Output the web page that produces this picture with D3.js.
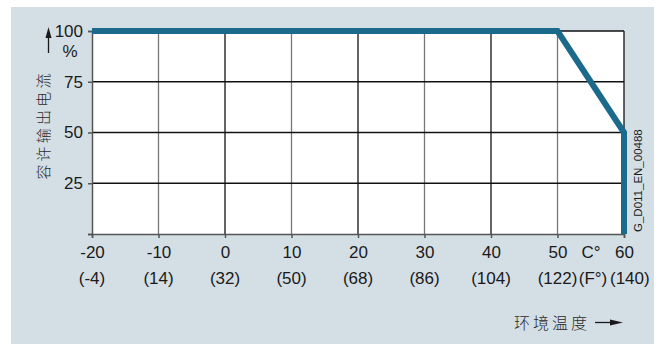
<!DOCTYPE html>
<html>
<head>
<meta charset="utf-8">
<script src="https://cdn.jsdelivr.net/npm/d3@7"></script>
<style>
  body { margin: 0; background: #ffffff; }
  svg { display: block; }
  .axis text { font-family: "Liberation Sans", Arial, sans-serif; font-size: 17px; fill: #1a1a1a; }
  .cjk { font-family: "Noto Sans CJK SC", sans-serif; font-weight: 300; fill: #2a2a2a; }
</style>
</head>
<body>
<div id="chart"></div>
<script>
// temperature ticks (C) and their Fahrenheit labels
var tempTicks = [-20, -10, 0, 10, 20, 30, 40, 50, 60];
var fahrLabels = ["(-4)", "(14)", "(32)", "(50)", "(68)", "(86)", "(104)", "(122)", "(140)"];
var currentTicks = [0, 25, 50, 75, 100];

// derating curve
var curveTemp = [-20, 50, 60, 60];
var curveCurrent = [100, 100, 50, 0];

var width = 664, height = 344;
var svg = d3.select("#chart").append("svg")
  .attr("width", width)
  .attr("height", height);

// panel background
svg.append("rect")
  .attr("x", 11).attr("y", 7)
  .attr("width", 643).attr("height", 337)
  .attr("fill", "#d4dfe5");

var x = d3.scaleLinear().domain([-20, 60]).range([92, 624]);
var y = d3.scaleLinear().domain([0, 100]).range([234, 31]);

// white plot area
svg.append("rect")
  .attr("x", x(-20)).attr("y", y(100))
  .attr("width", x(60) - x(-20)).attr("height", y(0) - y(100))
  .attr("fill", "#ffffff");

// vertical grid
svg.append("g").selectAll("line")
  .data(tempTicks.slice(1))
  .enter().append("line")
  .attr("x1", function(d) { return x(d); })
  .attr("x2", function(d) { return x(d); })
  .attr("y1", y(100)).attr("y2", y(0))
  .attr("stroke", function(d) { return (d % 20 === 0) ? "#111" : "#777"; })
  .attr("stroke-width", 1.3);

// horizontal grid
svg.append("g").selectAll("line")
  .data(currentTicks.slice(1))
  .enter().append("line")
  .attr("x1", x(-20)).attr("x2", x(60))
  .attr("y1", function(d) { return y(d); })
  .attr("y2", function(d) { return y(d); })
  .attr("stroke", "#111")
  .attr("stroke-width", 1.3);

// axes
var yAxis = d3.axisLeft(y)
  .tickValues(currentTicks)
  .tickSize(4)
  .tickPadding(5)
  .tickFormat(function(d) { return d === 0 ? "" : d; });

var gy = svg.append("g")
  .attr("class", "axis")
  .attr("transform", "translate(" + x(-20) + ",0)")
  .call(yAxis);

var xAxis = d3.axisBottom(x)
  .tickValues(tempTicks)
  .tickSize(4)
  .tickPadding(8)
  .tickFormat(function(d) { return d; });

var gx = svg.append("g")
  .attr("class", "axis")
  .attr("transform", "translate(0," + y(0) + ")")
  .call(xAxis);

[gx, gy].forEach(function(g) {
  g.select(".domain").attr("stroke", "#555").attr("stroke-width", 1.5);
  g.selectAll(".tick line").attr("stroke", "#555").attr("stroke-width", 1.5);
});

// fahrenheit row
svg.append("g").attr("class", "axis")
  .selectAll("text")
  .data(tempTicks)
  .enter().append("text")
  .attr("x", function(d, i) { return i === tempTicks.length - 1 ? x(d) - 14 : x(d); })
  .attr("y", 284)
  .attr("text-anchor", function(d, i) { return i === tempTicks.length - 1 ? "start" : "middle"; })
  .text(function(d, i) { return fahrLabels[i]; });

svg.append("text")
  .attr("x", 591).attr("y", 258)
  .attr("text-anchor", "middle")
  .style("font-family", "Liberation Sans, Arial, sans-serif")
  .style("font-size", "17px").style("fill", "#1a1a1a")
  .text("C°");

svg.append("text")
  .attr("x", 593).attr("y", 284)
  .attr("text-anchor", "middle")
  .style("font-family", "Liberation Sans, Arial, sans-serif")
  .style("font-size", "17px").style("fill", "#1a1a1a")
  .text("(F°)");

// percent unit + up arrow
svg.append("text")
  .attr("x", 70).attr("y", 57)
  .attr("text-anchor", "middle")
  .style("font-family", "Liberation Sans, Arial, sans-serif")
  .style("font-size", "17px").style("fill", "#1a1a1a")
  .text("%");

svg.append("line")
  .attr("x1", 48.5).attr("x2", 48.5)
  .attr("y1", 35).attr("y2", 53)
  .attr("stroke", "#1a1a1a").attr("stroke-width", 1.3);
svg.append("path")
  .attr("d", "M48.5,27 L45.5,38 L51.5,38 Z")
  .attr("fill", "#1a1a1a");

// y title
svg.append("text")
  .attr("class", "cjk")
  .attr("transform", "translate(49,125) rotate(-90)")
  .attr("text-anchor", "middle")
  .style("font-size", "15px")
  .style("letter-spacing", "3.2px")
  .text("容许输出电流");

// x title + arrow
svg.append("text")
  .attr("class", "cjk")
  .attr("x", 514).attr("y", 329)
  .style("font-size", "16px")
  .style("letter-spacing", "3px")
  .text("环境温度");
svg.append("line")
  .attr("x1", 595).attr("x2", 612)
  .attr("y1", 322.5).attr("y2", 322.5)
  .attr("stroke", "#1a1a1a").attr("stroke-width", 1.3);
svg.append("path")
  .attr("d", "M623,322.5 L610,319.5 L610,325.5 Z")
  .attr("fill", "#1a1a1a");

// drawing id
svg.append("text")
  .attr("transform", "translate(642,232) rotate(-90)")
  .style("font-family", "Liberation Sans, Arial, sans-serif")
  .style("font-size", "11.5px").style("fill", "#1a1a1a")
  .text("G_D011_EN_00488");

// derating curve
var line = d3.line()
  .x(function(d) { return x(d[0]); })
  .y(function(d) { return y(d[1]); });

svg.append("path")
  .datum(curveTemp.map(function(t, i) { return [t, curveCurrent[i]]; }))
  .attr("d", line)
  .attr("fill", "none")
  .attr("stroke", "#1b6a8b")
  .attr("stroke-width", 6)
  .attr("stroke-linejoin", "miter");
</script>
</body>
</html>
